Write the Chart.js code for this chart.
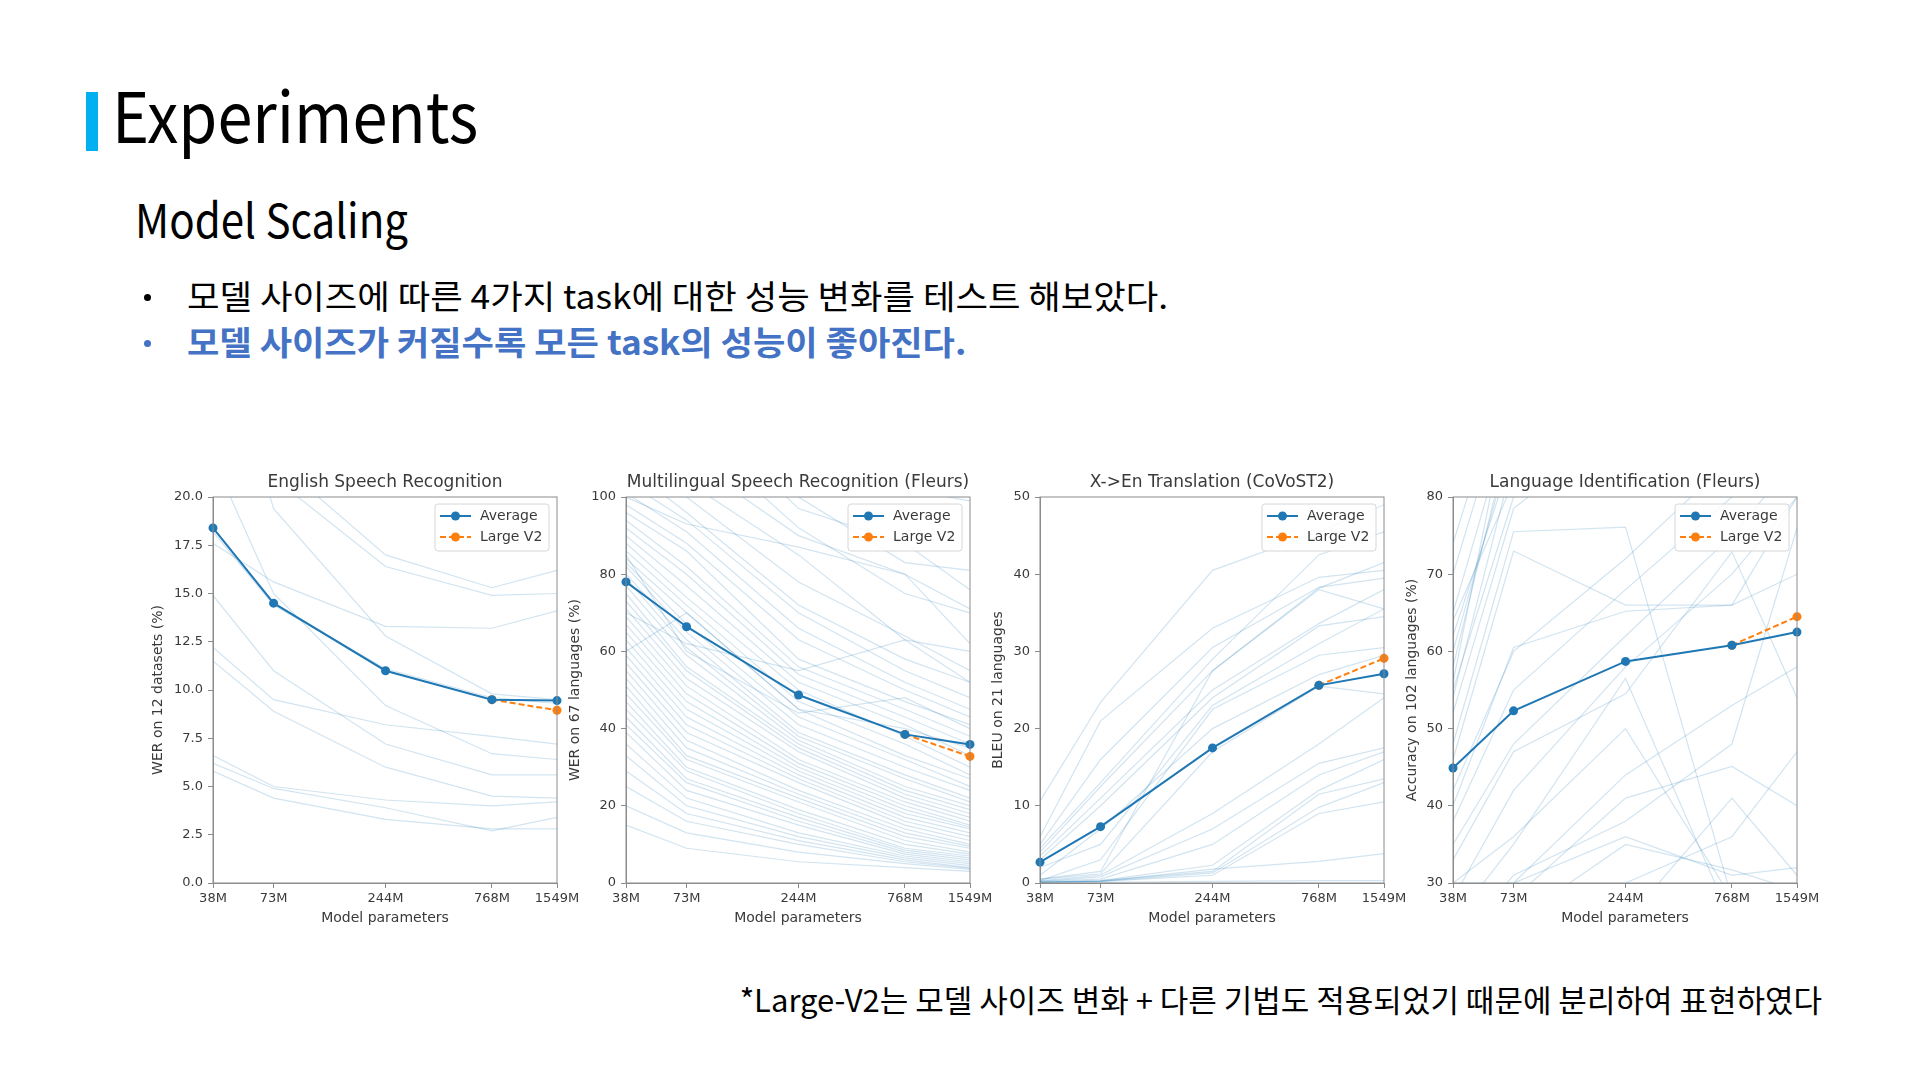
<!DOCTYPE html>
<html>
<head>
<meta charset="utf-8">
<script src="https://cdn.jsdelivr.net/npm/chart.js@4.4.0/dist/chart.umd.min.js"></script>
<style>
  body { margin: 0; width: 1920px; height: 1080px; background: #fff; position: relative; overflow: hidden; font-family: "Noto Sans CJK KR", sans-serif; }
  .bar { position: absolute; left: 86px; top: 92px; width: 12px; height: 59px; background: #00b0f0; }
  .t { position: absolute; line-height: 1; white-space: nowrap; color: #000; transform-origin: left center; }
  .h1 { left: 112px; top: 78px; font-size: 70px; transform: scaleX(0.9); }
  .h2 { left: 135px; top: 194px; font-size: 47px; transform: scaleX(0.895); }
  .b1 { left: 187px; top: 279px; font-size: 33px; transform: scaleX(1.07); }
  .b2 { left: 187px; top: 325px; font-size: 33px; font-weight: bold; color: #4472c4; transform: scaleX(1.065); }
  .dot { position: absolute; width: 7px; height: 7px; border-radius: 50%; left: 144px; }
  .foot { right: 98px; top: 983px; font-size: 31px; }
  .box { position: absolute; top: 465px; width: 449px; height: 470px; }
</style>
</head>
<body>
<div class="bar"></div>
<div class="t h1">Experiments</div>
<div class="t h2">Model Scaling</div>
<div class="dot" style="top:294px;background:#000"></div>
<div class="t b1">모델 사이즈에 따른 4가지 task에 대한 성능 변화를 테스트 해보았다.</div>
<div class="dot" style="top:340px;background:#4472c4"></div>
<div class="t b2">모델 사이즈가 커질수록 모든 task의 성능이 좋아진다.</div>
<div class="t foot">*Large-V2는 모델 사이즈 변화 + 다른 기법도 적용되었기 때문에 분리하여 표현하였다</div>

<div class="box" style="left:138px"><canvas id="c1"></canvas></div>
<div class="box" style="left:551px"><canvas id="c2"></canvas></div>
<div class="box" style="left:965px"><canvas id="c3"></canvas></div>
<div class="box" style="left:1378px"><canvas id="c4"></canvas></div>

<script>
// model sizes (x axis, log scale)
const params = [38, 73, 244, 768, 1549];
const xTickLabels = ['38M', '73M', '244M', '768M', '1549M'];

// English Speech Recognition
const enYTicks = [0, 2.5, 5, 7.5, 10, 12.5, 15, 17.5, 20];
const enYTickLabels = ['0.0', '2.5', '5.0', '7.5', '10.0', '12.5', '15.0', '17.5', '20.0'];
const enAvg = [18.4, 14.5, 11.0, 9.5, 9.45];
const enLarge = [null, null, null, 9.5, 8.95];
const enLines = [
  [28, 22, 17.0, 15.3, 16.2],
  [26, 21, 16.4, 14.9, 15.0],
  [17.6, 15.6, 13.3, 13.2, 14.1],
  [30, 19.4, 12.8, 9.8, 9.5],
  [22, 15.0, 9.2, 6.7, 6.4],
  [14.9, 11.0, 7.2, 5.6, 5.6],
  [12.2, 9.5, 8.2, 7.6, 7.2],
  [11.5, 8.9, 6.0, 4.5, 4.4],
  [6.6, 5.0, 4.3, 4.0, 4.2],
  [6.2, 4.9, 3.9, 2.7, 3.4],
  [5.8, 4.4, 3.3, 2.8, 2.8],
  [18.2, 14.4, 11.1, 9.6, 9.3]
];

// Multilingual Speech Recognition (Fleurs)
const mlYTicks = [0, 20, 40, 60, 80, 100];
const mlYTickLabels = ['0', '20', '40', '60', '80', '100'];
const mlAvg = [78.0, 66.4, 48.7, 38.5, 35.9];
const mlLarge = [null, null, null, 38.5, 32.8];
const mlLines = [
  [160, 140, 118, 102, 99],
  [150, 128, 100, 83, 81],
  [140, 125, 97, 88, 76],
  [135, 118, 92, 75, 70],
  [125, 110, 90, 80, 62],
  [118, 104, 85, 63, 60],
  [112, 100, 78, 64, 55],
  [108, 96, 72, 58, 52],
  [104, 94, 70, 55, 48],
  [101, 91, 66, 52, 45],
  [98, 88, 63, 50, 43],
  [96, 86, 58, 47, 41],
  [94, 82, 56, 45, 38],
  [92, 80, 54, 43, 36],
  [90, 77, 52, 41, 33],
  [88, 74, 50, 38, 30],
  [86, 72, 47, 36, 28],
  [84, 70, 45, 33, 27],
  [83, 67, 43, 32, 25],
  [82, 65, 41, 30, 24],
  [80, 63, 39, 28, 22],
  [79, 61, 38, 27, 21],
  [77, 59, 37, 25, 20],
  [75, 56, 36, 24, 19],
  [73, 55, 35, 23, 18],
  [71, 53, 34, 22, 17],
  [69, 51, 32, 21, 16],
  [67, 49, 31, 20, 15],
  [65, 47, 30, 19, 14.5],
  [63, 45, 29, 18, 14],
  [61, 43, 28, 17, 13],
  [59, 41, 27, 16, 12],
  [57, 39, 26, 15, 11],
  [55, 37, 24, 14, 10],
  [53, 35, 23, 13, 9.5],
  [51, 33, 22, 12, 9],
  [49, 32, 21, 11, 8],
  [47, 30, 19, 10, 7.5],
  [45, 29, 18, 9, 7],
  [43, 27, 17, 8.5, 6.5],
  [41, 26, 16, 8, 6],
  [39, 24, 15, 7.5, 5.5],
  [36, 22, 13, 7, 5],
  [33, 20, 12, 6.5, 4.5],
  [29, 18, 11, 6, 4],
  [25, 16, 10, 5.5, 3.8],
  [20, 13, 8, 5, 3.5],
  [15, 9, 5.5, 4, 3],
  [70, 62, 55, 63, 52],
  [85, 60, 44, 48, 40],
  [60, 70, 45, 40, 35],
  [100, 93, 87, 80, 71]
];

// X->En Translation (CoVoST2)
const trYTicks = [0, 10, 20, 30, 40, 50];
const trYTickLabels = ['0', '10', '20', '30', '40', '50'];
const trAvg = [2.7, 7.3, 17.5, 25.6, 27.1];
const trLarge = [null, null, null, 25.6, 29.1];
const trLines = [
  [10.6, 23.4, 40.5, 45.5, 49.0],
  [6.0, 21.0, 33.0, 39.6, 40.5],
  [5.0, 16.0, 30.5, 38.3, 39.5],
  [4.5, 13.0, 29.0, 42.5, 45.5],
  [4.0, 12.5, 27.5, 38.2, 41.5],
  [3.5, 11.0, 25.0, 33.6, 38.0],
  [3.0, 10.0, 24.0, 33.3, 34.5],
  [0.5, 1.5, 27.5, 38.0, 35.5],
  [2.0, 5.0, 23.0, 31.0, 35.5],
  [0.3, 3.0, 22.5, 29.5, 30.5],
  [1.0, 7.0, 20.0, 27.0, 29.5],
  [0.5, 1.2, 17.0, 25.5, 24.5],
  [0.3, 1.0, 9.0, 18.0, 24.0],
  [0.2, 0.8, 7.0, 15.5, 17.5],
  [0.2, 0.5, 5.0, 14.0, 17.0],
  [0.1, 0.3, 2.3, 12.0, 16.0],
  [0.1, 0.3, 1.5, 11.5, 13.5],
  [0.1, 0.2, 1.3, 9.8, 13.0],
  [0.1, 0.2, 1.0, 9.0, 10.5],
  [0.1, 0.2, 1.8, 2.8, 3.8],
  [0.1, 0.1, 0.2, 0.3, 0.3]
];

// Language Identification (Fleurs)
const liYTicks = [30, 40, 50, 60, 70, 80];
const liYTickLabels = ['30', '40', '50', '60', '70', '80'];
const liAvg = [44.9, 52.3, 58.7, 60.8, 62.5];
const liLarge = [null, null, null, 60.8, 64.5];
const liLines = [
  [56, 95, 99, 99, 99],
  [58, 90, 98, 99, 99],
  [60, 88, 97, 98, 99],
  [62, 86, 96, 98, 99],
  [65, 92, 98, 99, 99],
  [70, 96, 99, 99, 99],
  [74, 99, 99, 99, 99],
  [54, 85, 95, 97, 98],
  [52, 78.5, 90, 95, 97],
  [48, 75.5, 76.1, 28, 25],
  [46, 73, 66, 66, 80],
  [40, 60.5, 65.2, 66, 70],
  [33, 47, 54.5, 72.9, 54],
  [30, 36, 50, 28, 20],
  [25, 35, 56.5, 25, 20],
  [20, 28, 41, 45.1, 40],
  [15, 20, 25, 41, 31],
  [22, 31, 38, 48, 76],
  [18, 30, 44, 53, 58],
  [10, 25, 35, 31.7, 29],
  [42, 60, 72, 85, 90],
  [38, 55, 68, 80, 88],
  [35, 48, 62, 75, 85],
  [28, 42, 58, 70, 80],
  [55, 80, 90, 94, 96],
  [64, 82, 94, 97, 98],
  [12, 22, 30, 36, 47],
  [30, 30, 36, 31, 32]
];

const blue = '#1f77b4';
const orange = '#ff7f0e';
const faint = 'rgba(31,119,180,0.2)';
const txt = '#3a3a3a';
const axisCol = '#8c8c8c';
const fam = '"DejaVu Sans", sans-serif';

// box round the plot, like matplotlib spines
const frame = {
  id: 'frame',
  afterDraw(chart) {
    const a = chart.chartArea, ctx = chart.ctx;
    ctx.save();
    ctx.strokeStyle = axisCol;
    ctx.lineWidth = 1;
    ctx.strokeRect(a.left, a.top, a.right - a.left, a.bottom - a.top);
    ctx.restore();
  }
};

// legend in the upper right corner, only the two main series
const legendBox = {
  id: 'legendBox',
  afterDraw(chart) {
    const a = chart.chartArea, ctx = chart.ctx;
    const w = 114, h = 47;
    const bx = a.right - 8 - w, by = a.top + 7;
    ctx.save();
    ctx.fillStyle = 'rgba(255,255,255,0.85)';
    ctx.strokeStyle = '#d6d6d6';
    ctx.lineWidth = 1;
    ctx.beginPath();
    ctx.roundRect(bx, by, w, h, 3);
    ctx.fill();
    ctx.stroke();
    [0, 1].forEach(i => {
      const ds = chart.data.datasets[i];
      const y = by + 12 + i * 21;
      ctx.strokeStyle = ds.borderColor;
      ctx.lineWidth = 2;
      ctx.setLineDash(ds.borderDash || []);
      ctx.beginPath();
      ctx.moveTo(bx + 5, y);
      ctx.lineTo(bx + 36, y);
      ctx.stroke();
      ctx.setLineDash([]);
      ctx.fillStyle = ds.borderColor;
      ctx.beginPath();
      ctx.arc(bx + 20.5, y, 4.5, 0, Math.PI * 2);
      ctx.fill();
      ctx.fillStyle = txt;
      ctx.font = '14px ' + fam;
      ctx.textBaseline = 'middle';
      ctx.fillText(ds.label, bx + 45, y);
    });
    ctx.restore();
  }
};

function makeChart(id, title, yTitle, yTitlePad, yTicks, yTickLabels, avg, large, lines) {
  const pts = arr => arr.map((v, i) => ({ x: params[i], y: v }));
  const datasets = [
    { label: 'Average', data: pts(avg), borderColor: blue, backgroundColor: blue, borderWidth: 2,
      pointRadius: 4.5, pointBorderWidth: 0, clip: false },
    { label: 'Large V2', data: pts(large), borderColor: orange, backgroundColor: orange, borderWidth: 2,
      borderDash: [6, 3], pointRadius: 4.5, pointBorderWidth: 0, clip: false }
  ];
  lines.forEach(l => datasets.push({ label: '', data: pts(l), borderColor: faint, borderWidth: 1.2, pointRadius: 0 }));

  new Chart(document.getElementById(id), {
    type: 'line',
    data: { datasets },
    plugins: [frame, legendBox],
    options: {
      animation: false,
      responsive: true,
      maintainAspectRatio: false,
      events: [],
      layout: { padding: { left: 0, right: 30, top: 0, bottom: 0 } },
      plugins: {
        legend: { display: false },
        tooltip: { enabled: false },
        title: { display: true, fullSize: false, text: title, color: txt,
                 font: { family: fam, size: 17, weight: 'normal' },
                 padding: { top: 7, bottom: 4.6 } }
      },
      scales: {
        x: {
          type: 'logarithmic', min: params[0], max: params[params.length - 1],
          afterBuildTicks: s => { s.ticks = params.map(v => ({ value: v })); },
          afterFit: s => { s.height = 52; },
          ticks: { callback: (v, i) => xTickLabels[i], autoSkip: false, maxRotation: 0, color: txt,
                   font: { family: fam, size: 13 }, padding: 3 },
          grid: { drawOnChartArea: false, tickLength: 5, color: axisCol },
          border: { color: axisCol },
          title: { display: true, text: 'Model parameters', color: txt, font: { family: fam, size: 14 },
                   padding: { top: 0, bottom: 8 } }
        },
        y: {
          min: yTicks[0], max: yTicks[yTicks.length - 1],
          afterBuildTicks: s => { s.ticks = yTicks.map(v => ({ value: v })); },
          afterFit: s => { s.width = 75; },
          ticks: { callback: (v, i) => yTickLabels[i], autoSkip: false, color: txt,
                   font: { family: fam, size: 13 }, padding: 5 },
          grid: { drawOnChartArea: false, tickLength: 5, color: axisCol },
          border: { color: axisCol },
          title: { display: true, text: yTitle, color: txt, font: { family: fam, size: 14 },
                   padding: { top: yTitlePad, bottom: 0 } }
        }
      }
    }
  });
}

makeChart('c1', 'English Speech Recognition', 'WER on 12 datasets (%)', 12, enYTicks, enYTickLabels, enAvg, enLarge, enLines);
makeChart('c2', 'Multilingual Speech Recognition (Fleurs)', 'WER on 67 languages (%)', 16, mlYTicks, mlYTickLabels, mlAvg, mlLarge, mlLines);
makeChart('c3', 'X->En Translation (CoVoST2)', 'BLEU on 21 languages', 25, trYTicks, trYTickLabels, trAvg, trLarge, trLines);
makeChart('c4', 'Language Identification (Fleurs)', 'Accuracy on 102 languages (%)', 26, liYTicks, liYTickLabels, liAvg, liLarge, liLines);
</script>
</body>
</html>
